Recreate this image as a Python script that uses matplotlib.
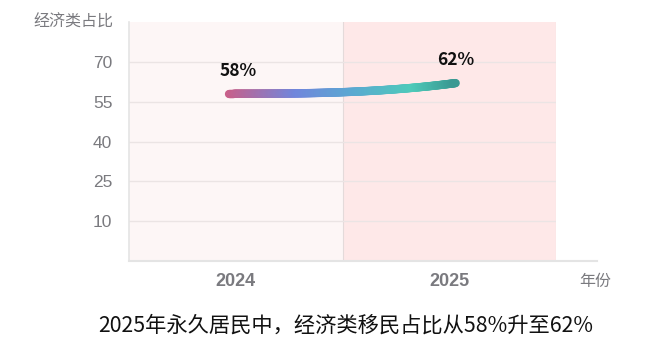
import numpy as np
import matplotlib
matplotlib.use("Agg")
import matplotlib.pyplot as plt
from matplotlib.collections import LineCollection
from matplotlib.colors import LinearSegmentedColormap

plt.rcParams['font.family'] = ['Noto Sans CJK SC', 'DejaVu Sans']
num_font = ['Liberation Sans', 'Noto Sans CJK SC']

# data
years = ['2024', '2025']
share = [58, 62]
yticks = [10, 25, 40, 55, 70]
title = '2025年永久居民中，经济类移民占比从58%升至62%'
ylabel = '经济类占比'
xlabel = '年份'

band_colors = ['#fdf6f6', '#fee8e8']
grad = LinearSegmentedColormap.from_list(
    'g', [(0, '#c9608a'), (0.3, '#7186dc'), (0.55, '#5ba8d2'),
          (0.82, '#4ecbba'), (1, '#3a9a93')])

fig = plt.figure(figsize=(6.6, 3.51), dpi=100)
ax = fig.add_axes([129 / 660, 1 - 261 / 351, 427 / 660, 239 / 351])
ax.set_xlim(-0.5, 1.5)
ax.set_ylim(-5, 85)

# category bands
for i, c in enumerate(band_colors):
    ax.axvspan(i - 0.5, i + 0.5, color=c, zorder=0, lw=0)
ax.axvline(0.5, color='#e4dada', lw=0.8, zorder=1)
ax.axvline(1.5, color='#e4dada', lw=0.8, zorder=1)

for t in yticks:
    ax.axhline(t, color='#ebe4e4', lw=1, zorder=1)

# smooth gradient curve between the two points
t = np.linspace(0, 1, 300)
x = t * 1.06 - 0.03
y = share[0] + (share[1] - share[0]) * t ** 2.8
pts = np.column_stack([x, y]).reshape(-1, 1, 2)
segs = np.concatenate([pts[:-1], pts[1:]], axis=1)
lc = LineCollection(segs, cmap=grad, linewidth=6, capstyle='round', zorder=3)
lc.set_array(t[:-1])
ax.add_collection(lc)

for i, v in enumerate(share):
    ax.annotate(f'{v}%', (x[0] + 0.04 if i == 0 else x[-1], v), xytext=(0, 10),
                textcoords='offset points', ha='center', va='bottom',
                fontsize=12.5, fontweight='bold', color='#111111', zorder=4)

ax.set_yticks(yticks)
ax.set_yticklabels([str(v) for v in yticks], fontsize=12.5, color='#7a7a7f',
                   family=num_font)
ax.set_xticks(range(len(years)))
ax.set_xticklabels(years, fontsize=13, fontweight='bold', color='#7a7a7f',
                   family=num_font)
ax.tick_params(length=0)
ax.tick_params(axis='y', pad=12)
ax.tick_params(axis='x', pad=9)

for s in ['top', 'right', 'bottom']:
    ax.spines[s].set_visible(False)
ax.spines['left'].set_color('#e4e4e4')
ax.spines['left'].set_linewidth(1.2)
ax.plot([0, 468 / 427], [0, 0], transform=ax.transAxes, color='#e4e4e4',
        lw=1.5, clip_on=False, zorder=2)

fig.text(73 / 660, 1 - 22 / 351, ylabel, ha='center', va='center',
         fontsize=11.5, color='#7a7a7f')
fig.text(595 / 660, 1 - 281 / 351, xlabel, ha='center', va='center',
         fontsize=11.5, color='#7a7a7f')
fig.text(346 / 660, 1 - 326 / 351, title, ha='center', va='center',
         fontsize=15.3, color='#111111')

fig.savefig('out.png', dpi=100)
